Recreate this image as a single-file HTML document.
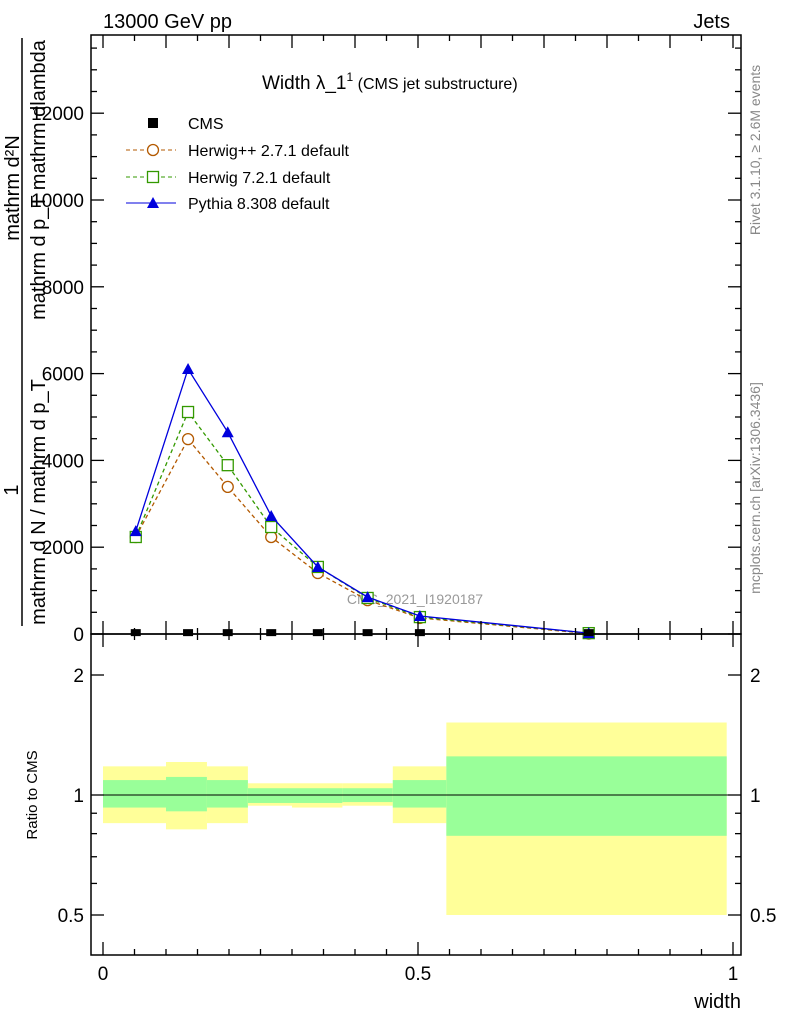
<!DOCTYPE html>
<html><head><meta charset="utf-8"><style>
body{margin:0;background:#fff;font-family:"Liberation Sans",sans-serif}
svg text{font-family:"Liberation Sans",sans-serif}
</style></head><body>
<svg id="c" width="786" height="1024" xmlns="http://www.w3.org/2000/svg">
<text x="103" y="28" font-size="20">13000 GeV pp</text>
<text x="730" y="28" font-size="20" text-anchor="end">Jets</text>
<text x="262" y="89" font-size="19">Width λ_1<tspan font-size="12" dy="-8">1</tspan><tspan font-size="16" dy="8"> (CMS jet substructure)</tspan></text>
<g font-size="20">
<text transform="translate(19,188) rotate(-90)" text-anchor="middle">mathrm d²N</text>
<line x1="22" y1="38" x2="22" y2="626" stroke="#000" stroke-width="1.5"/>
<text transform="translate(18,490) rotate(-90)" text-anchor="middle">1</text>
<text transform="translate(45,180) rotate(-90)" text-anchor="middle">mathrm d p_T mathrm dlambda</text>
<text transform="translate(45,502) rotate(-90)" text-anchor="middle">mathrm d N / mathrm d p_T</text>
</g>
<text transform="translate(37,795) rotate(-90)" font-size="15" text-anchor="middle">Ratio to CMS</text>
<text x="741" y="1008" font-size="20" text-anchor="end">width</text>
<text transform="translate(760,150) rotate(-90)" font-size="14" fill="#888" text-anchor="middle">Rivet 3.1.10, ≥ 2.6M events</text>
<text transform="translate(760,488) rotate(-90)" font-size="14" fill="#888" text-anchor="middle">mcplots.cern.ch [arXiv:1306.3436]</text>
<text x="415" y="604" font-size="14" fill="#999" text-anchor="middle">CMS_2021_I1920187</text>
<g id="bands"></g><g id="main"></g><g id="axes"></g>
<g font-size="16">
<rect x="148" y="118" width="10" height="10" fill="#000"/><text x="188" y="129">CMS</text>
<line x1="126" y1="150" x2="176" y2="150" stroke="#b35900" stroke-dasharray="4,3"/><circle cx="153" cy="150" r="5.5" fill="#fff" stroke="#b35900" stroke-width="1.3"/><text x="188" y="156">Herwig++ 2.7.1 default</text>
<line x1="126" y1="177" x2="176" y2="177" stroke="#339900" stroke-dasharray="4,3"/><rect x="147.5" y="171.5" width="11" height="11" fill="#fff" stroke="#339900" stroke-width="1.3"/><text x="188" y="183">Herwig 7.2.1 default</text>
<line x1="126" y1="203" x2="176" y2="203" stroke="#0000dd"/><path d="M153,197 L159,208 L147,208Z" fill="#0000dd"/><text x="188" y="209">Pythia 8.308 default</text>
</g>
</svg>
<script>
const xs=[0.052,0.135,0.198,0.267,0.341,0.42,0.503,0.771];
const cms=[20,20,20,20,20,20,20,20];
const herwigpp=[2235,4490,3390,2235,1405,780,370,10];
const herwig7=[2235,5115,3890,2465,1545,830,390,20];
const pythia=[2370,6105,4650,2720,1545,850,415,20];
const binEdges=[0,0.1,0.165,0.23,0.3,0.38,0.46,0.545,0.99];
const yellowHi=[1.18,1.21,1.18,1.07,1.07,1.07,1.18,1.52];
const yellowLo=[0.85,0.82,0.85,0.94,0.93,0.94,0.85,0.5];
const greenHi=[1.09,1.11,1.09,1.04,1.04,1.04,1.09,1.25];
const greenLo=[0.93,0.91,0.93,0.955,0.955,0.96,0.93,0.79];
const yTicks=[0,2000,4000,6000,8000,10000,12000];
const xTicks=[0,0.5,1];
const NS="http://www.w3.org/2000/svg";
const L=91,R=741,T=35,MB=634,RB=955;
const X=v=>103+v*630, Y=v=>634-v*0.0434, RY=r=>795-120*Math.log2(r);
function mk(p,t,a){const e=document.createElementNS(NS,t);for(const k in a)e.setAttribute(k,a[k]);p.appendChild(e);return e;}
const bands=document.getElementById('bands'),main=document.getElementById('main'),ax=document.getElementById('axes');
for(let i=0;i<xs.length;i++){
 let e=mk(bands,'rect',{x:X(binEdges[i]),y:RY(yellowHi[i]),width:X(binEdges[i+1])-X(binEdges[i]),height:RY(yellowLo[i])-RY(yellowHi[i]),fill:'#ffff99'});
 
 
 e=mk(bands,'rect',{x:X(binEdges[i]),y:RY(greenHi[i]),width:X(binEdges[i+1])-X(binEdges[i]),height:RY(greenLo[i])-RY(greenHi[i]),fill:'#99ff99'});
 
 
}
let ln=mk(bands,'line',{x1:L,x2:R,y1:RY(1),y2:RY(1),stroke:'#000','stroke-width':1});


function series(vals,col,dash,name,marker){
 const pts=xs.map((x,i)=>X(x)+','+Y(vals[i])).join(' ');
 const pl=mk(main,'polyline',{points:pts,fill:'none',stroke:col,'stroke-width':1.3,'stroke-dasharray':dash});
 
 
 xs.forEach((x,i)=>{const cx=X(x),cy=Y(vals[i]);let m;
  if(marker=='c')m=mk(main,'circle',{cx:cx,cy:cy,r:5.5,fill:'#fff',stroke:col,'stroke-width':1.3});
  else if(marker=='s')m=mk(main,'rect',{x:cx-5.5,y:cy-5.5,width:11,height:11,fill:'#fff',stroke:col,'stroke-width':1.3});
  else if(marker=='t')m=mk(main,'path',{d:`M${cx},${cy-6}L${cx+6},${cy+5}L${cx-6},${cy+5}Z`,fill:col});
  else m=mk(main,'rect',{x:cx-5,y:cy-4,width:10,height:8,fill:'#000'});
  
  });
}
series(herwigpp,'#b35900','4,3','herwigpp','c');
series(herwig7,'#339900','4,3','herwig7','s');
series(pythia,'#0000dd','','pythia','t');
xs.forEach((x,i)=>{const m=mk(main,'rect',{x:X(x)-5,y:Y(cms[i])-4,width:10,height:7,fill:'#000'});
 
 });
let f=mk(ax,'rect',{x:L,y:T,width:R-L,height:MB-T,fill:'none',stroke:'#000','stroke-width':1.5});


f=mk(ax,'rect',{x:L,y:MB,width:R-L,height:RB-MB,fill:'none',stroke:'#000','stroke-width':1.5});


function tick(x1,y1,x2,y2){mk(ax,'line',{x1,y1,x2,y2,stroke:'#000','stroke-width':1.3});}
for(let v=0;v<=13500;v+=500){const y=Y(v);if(y<T)break;const l=v%2000==0?13:6;tick(L,y,L+l,y);tick(R,y,R-l,y);}
yTicks.forEach(v=>{const t=mk(ax,'text',{x:84,y:Y(v)+7,'font-size':19,'text-anchor':'end'});t.textContent=v;
 
 });
for(let k=0;k<=20;k++){const v=k*0.05,x=X(v);const l=k%2==0?13:6;tick(x,MB,x,MB-l);tick(x,T,x,T+l);const l2=k%10==0?13:6;tick(x,RB,x,RB-l2);tick(x,MB,x,MB+l2);}
xTicks.forEach(v=>{const t=mk(ax,'text',{x:X(v),y:980,'font-size':19,'text-anchor':'middle'});t.textContent=v;
 
 });
[0.5,0.6,0.7,0.8,0.9,1,2].forEach(r=>{const y=RY(r);const l=(r==0.5||r==1||r==2)?13:6;tick(L,y,L+l,y);tick(R,y,R-l,y);});
[[2,'2'],[1,'1'],[0.5,'0.5']].forEach(([r,s])=>{
 let t=mk(ax,'text',{x:84,y:RY(r)+7,'font-size':19,'text-anchor':'end'});t.textContent=s;
 
 
 t=mk(ax,'text',{x:750,y:RY(r)+7,'font-size':19});t.textContent=s;
 
 });
</script>
</body></html>
